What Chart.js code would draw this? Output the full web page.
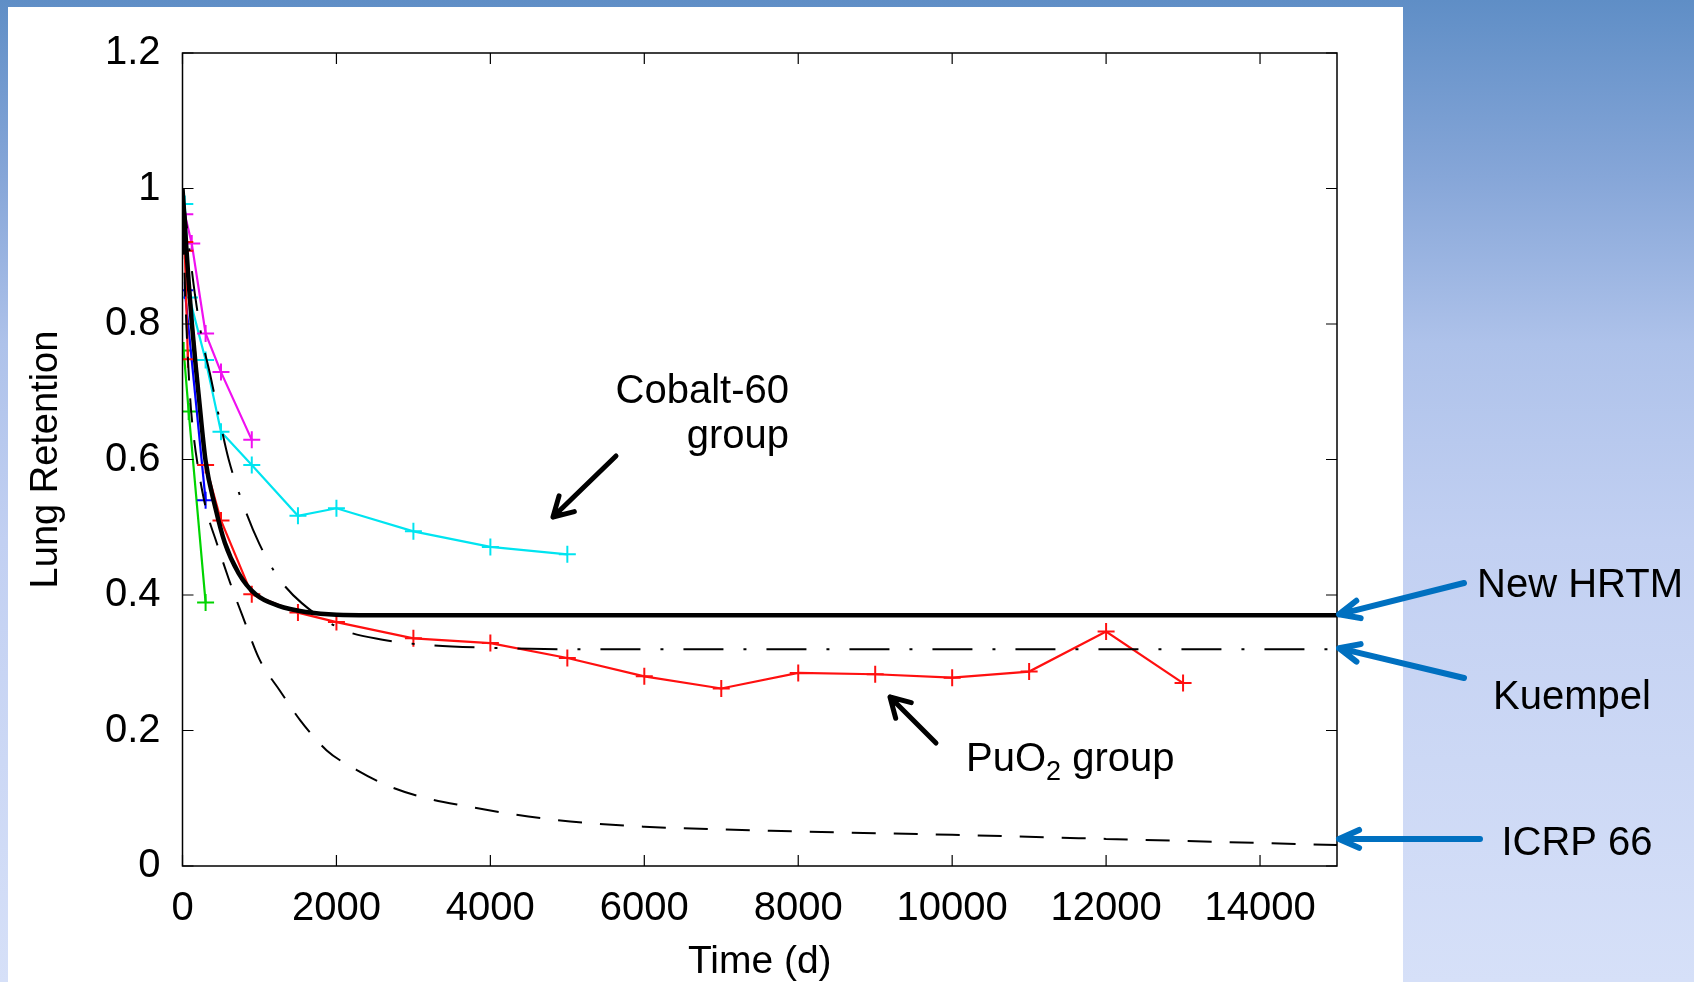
<!DOCTYPE html>
<html>
<head>
<meta charset="utf-8">
<script src="https://cdn.jsdelivr.net/npm/chart.js@4.4.1/dist/chart.umd.min.js"></script>
<style>
  html, body { margin: 0; padding: 0; }
  body {
    width: 1694px; height: 982px; overflow: hidden; position: relative;
    background: linear-gradient(to bottom, #5f8ec6 0%, #86a6d8 18%, #aec2ea 35%, #c2d0f2 55%, #d6e0f8 100%);
  }
  #panel { position: absolute; left: 8px; top: 7px; width: 1395px; height: 975px; background: #fff; }
  #wrap { position: absolute; left: 0; top: 0; width: 1694px; height: 982px; }
</style>
</head>
<body>
<div id="panel"></div>
<div id="wrap"><canvas id="retentionChart"></canvas></div>
<script>
(() => {
  const FONT = '"Liberation Sans", Arial, Helvetica, sans-serif';

  // axis ticks
  const xTicks = [0, 2000, 4000, 6000, 8000, 10000, 12000, 14000];
  const yTicks = [0, 0.2, 0.4, 0.6, 0.8, 1, 1.2];

  // measured groups: [day, retention]
  const cobalt = [[30, 0.977], [90, 0.839], [300, 0.747], [500, 0.641], [900, 0.592],
    [1500, 0.517], [2000, 0.528], [3000, 0.494], [4000, 0.471], [5000, 0.460]];
  const magenta = [[30, 0.962], [120, 0.919], [300, 0.786], [500, 0.729], [900, 0.629]];
  const puo2 = [[30, 0.921], [300, 0.592], [500, 0.510], [900, 0.401], [1500, 0.374],
    [2000, 0.360], [3000, 0.336], [4000, 0.329], [5000, 0.307], [6000, 0.280],
    [7000, 0.262], [8000, 0.285], [9000, 0.283], [10000, 0.278], [11000, 0.287],
    [12000, 0.346], [13000, 0.270]];
  const red2 = [[30, 0.908], [70, 0.748]];
  const blue = [[30, 0.850], [300, 0.540]];
  const green = [[15, 0.761], [80, 0.671], [300, 0.389]];

  // model curves
  const newHrtm = [[0, 1.0], [40, 0.93], [80, 0.862], [120, 0.803], [170, 0.74], [210, 0.695],
    [300, 0.598], [420, 0.532], [550, 0.477], [730, 0.432], [950, 0.401], [1250, 0.384],
    [1600, 0.375], [2000, 0.371], [3000, 0.37], [15000, 0.37]];
  const kuempel = [[0, 1.0], [100, 0.90], [160, 0.845], [250, 0.78], [360, 0.725], [480, 0.66],
    [600, 0.60], [800, 0.53], [1000, 0.475], [1250, 0.425], [1550, 0.388], [2100, 0.348],
    [2600, 0.334], [3200, 0.326], [4000, 0.322], [5000, 0.32], [15000, 0.32]];
  const icrp66 = [[0, 1.0], [20, 0.9], [50, 0.80], [100, 0.69], [150, 0.63], [200, 0.59],
    [300, 0.53], [450, 0.475], [600, 0.424], [800, 0.363], [1000, 0.305], [1270, 0.258],
    [1530, 0.215], [1870, 0.171], [2260, 0.142], [2700, 0.117], [3170, 0.100], [3700, 0.088],
    [4200, 0.078], [4700, 0.070], [5200, 0.064], [6000, 0.058], [8000, 0.051], [10000, 0.046],
    [12000, 0.040], [14000, 0.034], [15000, 0.031]];

  const pts = arr => arr.map(([x, y]) => ({ x, y }));

  function model(label, data, width, dash) {
    return {
      label, data: pts(data), showLine: true, borderColor: "#000", borderWidth: width,
      borderDash: dash, pointRadius: 0, pointHoverRadius: 0, cubicInterpolationMode: "monotone",
      fill: false
    };
  }

  function measured(label, data, color) {
    return {
      label, data: pts(data), showLine: true, borderColor: color, backgroundColor: color,
      borderWidth: 2.2, pointStyle: "cross", pointRadius: 8.5, pointHoverRadius: 8.5,
      pointBorderWidth: 2, pointBorderColor: color, tension: 0, fill: false
    };
  }

  function arrow(ctx, x1, y1, x2, y2, color, width, spread) {
    const a = Math.atan2(y1 - y2, x1 - x2);
    const len = 22;
    ctx.save();
    ctx.strokeStyle = color;
    ctx.lineWidth = width;
    ctx.lineCap = "round";
    ctx.lineJoin = "round";
    ctx.beginPath();
    ctx.moveTo(x1, y1);
    ctx.lineTo(x2, y2);
    ctx.moveTo(x2 + len * Math.cos(a - spread), y2 + len * Math.sin(a - spread));
    ctx.lineTo(x2, y2);
    ctx.lineTo(x2 + len * Math.cos(a + spread), y2 + len * Math.sin(a + spread));
    ctx.stroke();
    ctx.restore();
  }

  const frame = {
    id: "frame",
    afterDatasetsDraw(chart) {
      const { ctx, chartArea: a, scales } = chart;
      ctx.save();
      ctx.strokeStyle = "#000";
      ctx.lineWidth = 1.5;
      ctx.strokeRect(a.left, a.top, a.right - a.left, a.bottom - a.top);
      ctx.lineWidth = 1.2;
      ctx.beginPath();
      xTicks.forEach(v => {
        const px = scales.x.getPixelForValue(v);
        ctx.moveTo(px, a.bottom); ctx.lineTo(px, a.bottom - 11);
        ctx.moveTo(px, a.top); ctx.lineTo(px, a.top + 11);
      });
      yTicks.forEach(v => {
        const py = scales.y.getPixelForValue(v);
        ctx.moveTo(a.left, py); ctx.lineTo(a.left + 11, py);
        ctx.moveTo(a.right, py); ctx.lineTo(a.right - 11, py);
      });
      ctx.stroke();
      ctx.restore();
    },
    afterDraw(chart) {
      const { ctx, chartArea: a, scales } = chart;
      ctx.save();
      ctx.fillStyle = "#000";
      ctx.textBaseline = "alphabetic";
      ctx.font = "40px " + FONT;

      ctx.textAlign = "right";
      ctx.fillText("Cobalt-60", 789, 403);
      ctx.fillText("group", 789, 448);
      arrow(ctx, 616, 456, 553, 517, "#000", 5, Math.PI / 6);

      ctx.textAlign = "left";
      ctx.fillText("PuO", 966, 771);
      let w = ctx.measureText("PuO").width;
      ctx.font = "27px " + FONT;
      ctx.fillText("2", 966 + w, 780);
      const w2 = ctx.measureText("2").width;
      ctx.font = "40px " + FONT;
      ctx.fillText(" group", 966 + w + w2, 771);
      arrow(ctx, 936, 743, 890, 697, "#000", 5, Math.PI / 6);

      ctx.textAlign = "center";
      ctx.fillText("New HRTM", 1580, 597);
      ctx.fillText("Kuempel", 1572, 709);
      ctx.fillText("ICRP 66", 1577, 855);
      const tipX = a.right + 2;
      const blueArrow = "#0070c0";
      arrow(ctx, 1464, 583, tipX, scales.y.getPixelForValue(0.37) - 1, blueArrow, 6, 0.42);
      arrow(ctx, 1464, 678, tipX, scales.y.getPixelForValue(0.32) - 1, blueArrow, 6, 0.42);
      arrow(ctx, 1480, 839, tipX, scales.y.getPixelForValue(0.04), blueArrow, 6, 0.42);
      ctx.restore();
    }
  };

  const ctx = document.getElementById("retentionChart").getContext("2d");

  new Chart(ctx, {
    type: "scatter",
    data: {
      datasets: [
        model("New HRTM", newHrtm, 4.5, []),
        model("Kuempel", kuempel, 2, [40, 20, 3, 20]),
        model("ICRP 66", icrp66, 2, [24, 18]),
        measured("PuO2", puo2, "#ff1010"),
        measured("PuO2 b", red2, "#ff1010"),
        measured("Blue", blue, "#0000ff"),
        measured("Green", green, "#00d400"),
        measured("Magenta", magenta, "#f010f0"),
        measured("Cobalt-60", cobalt, "#00e4f0")
      ]
    },
    options: {
      responsive: true,
      maintainAspectRatio: false,
      devicePixelRatio: 1,
      animation: false,
      events: [],
      layout: { padding: { left: 0, right: 357, top: 53, bottom: 0 } },
      plugins: { legend: { display: false }, tooltip: { enabled: false } },
      scales: {
        x: {
          type: "linear", min: 0, max: 15000,
          afterFit: s => { s.height = 116; },
          afterBuildTicks: s => { s.ticks = xTicks.map(value => ({ value })); },
          grid: { display: false, drawTicks: false },
          border: { display: false },
          ticks: { color: "#000", font: { family: FONT, size: 40 }, padding: 19, maxRotation: 0,
            callback: v => String(v) },
          title: { display: true, text: "Time (d)", color: "#000",
            font: { family: FONT, size: 39, lineHeight: 1.0 }, padding: { top: 0, bottom: 0 } }
        },
        y: {
          type: "linear", min: 0, max: 1.2,
          afterFit: s => { s.width = 182.5; },
          afterBuildTicks: s => { s.ticks = yTicks.map(value => ({ value })); },
          grid: { display: false, drawTicks: false },
          border: { display: false },
          ticks: { color: "#000", font: { family: FONT, size: 40 }, padding: 22,
            callback: v => String(Math.round(v * 10) / 10) },
          title: { display: true, text: "Lung Retention", color: "#000",
            font: { family: FONT, size: 38 }, padding: { top: 24, bottom: 0 } }
        }
      }
    },
    plugins: [frame]
  });
})();
</script>
</body>
</html>
